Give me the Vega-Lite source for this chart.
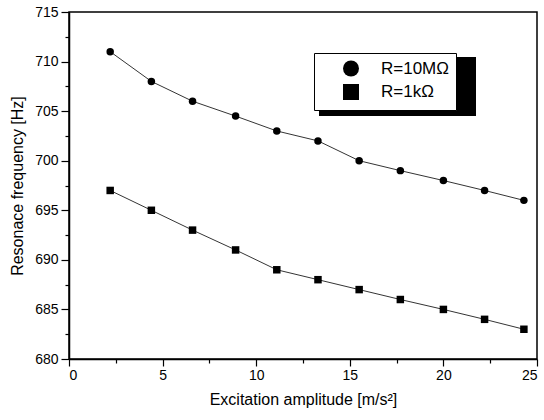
{
  "$schema": "https://vega.github.io/schema/vega-lite/v6.json",
  "width": 468,
  "height": 347,
  "autosize": {"type": "none"},
  "padding": {"left": 69, "top": 12, "right": 7, "bottom": 61},
  "background": "white",
  "config": {
    "font": "Liberation Sans",
    "view": {"stroke": "black", "strokeWidth": 1.5},
    "axis": {
      "grid": false,
      "domainColor": "black",
      "domainWidth": 1.5,
      "tickColor": "black",
      "tickWidth": 1.2,
      "labelColor": "black",
      "labelFont": "Liberation Sans",
      "labelFontSize": 14,
      "titleFont": "Liberation Sans",
      "titleFontSize": 16,
      "titleFontWeight": "normal",
      "titleColor": "black"
    }
  },
  "data": {
    "values": [
      {"amplitude": 2.2, "frequency": 711, "series": "R=10MΩ"},
      {"amplitude": 4.4, "frequency": 708, "series": "R=10MΩ"},
      {"amplitude": 6.6, "frequency": 706, "series": "R=10MΩ"},
      {"amplitude": 8.9, "frequency": 704.5, "series": "R=10MΩ"},
      {"amplitude": 11.1, "frequency": 703, "series": "R=10MΩ"},
      {"amplitude": 13.3, "frequency": 702, "series": "R=10MΩ"},
      {"amplitude": 15.5, "frequency": 700, "series": "R=10MΩ"},
      {"amplitude": 17.7, "frequency": 699, "series": "R=10MΩ"},
      {"amplitude": 20.0, "frequency": 698, "series": "R=10MΩ"},
      {"amplitude": 22.2, "frequency": 697, "series": "R=10MΩ"},
      {"amplitude": 24.3, "frequency": 696, "series": "R=10MΩ"},
      {"amplitude": 2.2, "frequency": 697, "series": "R=1kΩ"},
      {"amplitude": 4.4, "frequency": 695, "series": "R=1kΩ"},
      {"amplitude": 6.6, "frequency": 693, "series": "R=1kΩ"},
      {"amplitude": 8.9, "frequency": 691, "series": "R=1kΩ"},
      {"amplitude": 11.1, "frequency": 689, "series": "R=1kΩ"},
      {"amplitude": 13.3, "frequency": 688, "series": "R=1kΩ"},
      {"amplitude": 15.5, "frequency": 687, "series": "R=1kΩ"},
      {"amplitude": 17.7, "frequency": 686, "series": "R=1kΩ"},
      {"amplitude": 20.0, "frequency": 685, "series": "R=1kΩ"},
      {"amplitude": 22.2, "frequency": 684, "series": "R=1kΩ"},
      {"amplitude": 24.3, "frequency": 683, "series": "R=1kΩ"}
    ]
  },
  "encoding": {
    "x": {
      "field": "amplitude",
      "type": "quantitative",
      "scale": {"domain": [0, 25], "nice": false, "zero": false},
      "axis": {
        "values": [0, 2.5, 5, 7.5, 10, 12.5, 15, 17.5, 20, 22.5, 25],
        "labelExpr": "datum.value % 5 === 0 ? datum.label : ''",
        "tickSize": {"condition": {"test": "datum.value % 5 === 0", "value": 7}, "value": 4},
        "labelPadding": 2,
        "title": "Excitation amplitude [m/s²]",
        "titlePadding": 9
      }
    },
    "y": {
      "field": "frequency",
      "type": "quantitative",
      "scale": {"domain": [680, 715], "nice": false, "zero": false},
      "axis": {
        "values": [680, 682.5, 685, 687.5, 690, 692.5, 695, 697.5, 700, 702.5, 705, 707.5, 710, 712.5, 715],
        "labelExpr": "datum.value % 5 === 0 ? datum.label : ''",
        "tickSize": {"condition": {"test": "datum.value % 5 === 0", "value": 8}, "value": 4},
        "labelPadding": 3,
        "title": "Resonace frequency [Hz]",
        "titlePadding": 9
      }
    }
  },
  "layer": [
    {
      "transform": [{"filter": "isValid(datum.frequency)"}],
      "mark": {"type": "line", "strokeWidth": 0.8},
      "encoding": {
        "color": {
          "field": "series",
          "type": "nominal",
          "scale": {"range": ["black", "black"]},
          "legend": {
            "orient": "none",
            "legendX": 250,
            "legendY": -4,
            "zindex": 1,
            "title": null,
            "padding": 0,
            "values": ["R=10MΩ"],
            "symbolType": "M-1,-0.376H1V0.376H-1Z",
            "symbolSize": 24649,
            "symbolOffset": 0,
            "labelOffset": 0,
            "labelExpr": "''",
            "encode": {
              "symbols": {
                "update": {
                  "fill": {"value": "black"},
                  "stroke": {"value": "black"},
                  "strokeWidth": {"value": 0},
                  "opacity": {"value": 1}
                }
              }
            }
          }
        }
      }
    },
    {
      "mark": {"type": "point", "filled": true, "color": "black", "opacity": 1, "size": 56},
      "encoding": {
        "shape": {
          "field": "series",
          "type": "nominal",
          "scale": {"range": ["circle", "square"]},
          "legend": {
            "orient": "none",
            "legendX": 245,
            "legendY": 41,
            "zindex": 2,
            "title": null,
            "padding": 6.5,
            "fillColor": "white",
            "strokeColor": "black",
            "symbolSize": 256,
            "symbolOffset": 21.5,
            "labelOffset": 21,
            "rowPadding": 1.5,
            "labelFont": "Liberation Sans",
            "labelFontSize": 17,
            "labelColor": "black",
            "labelBaseline": "middle",
            "labelExpr": "datum.label + '\u00a0\u00a0\u00a0\u00a0'",
            "encode": {
              "symbols": {
                "update": {
                  "shape": {"signal": "datum.value === 'R=10MΩ' ? 'M-2.29,0H-0.7M0.7,0H2.29M0.38,0A0.38,0.38 0 1,1 -0.38,0A0.38,0.38 0 1,1 0.38,0Z' : 'M-2.29,0H-0.7M0.7,0H2.29M-0.35,-0.35H0.35V0.35H-0.35Z'"},
                  "fill": {"value": "black"},
                  "stroke": {"value": "#222"},
                  "strokeWidth": {"value": 1},
                  "size": {"value": 256},
                  "opacity": {"value": 1}
                }
              }
            }
          }
        }
      }
    }
  ]
}
